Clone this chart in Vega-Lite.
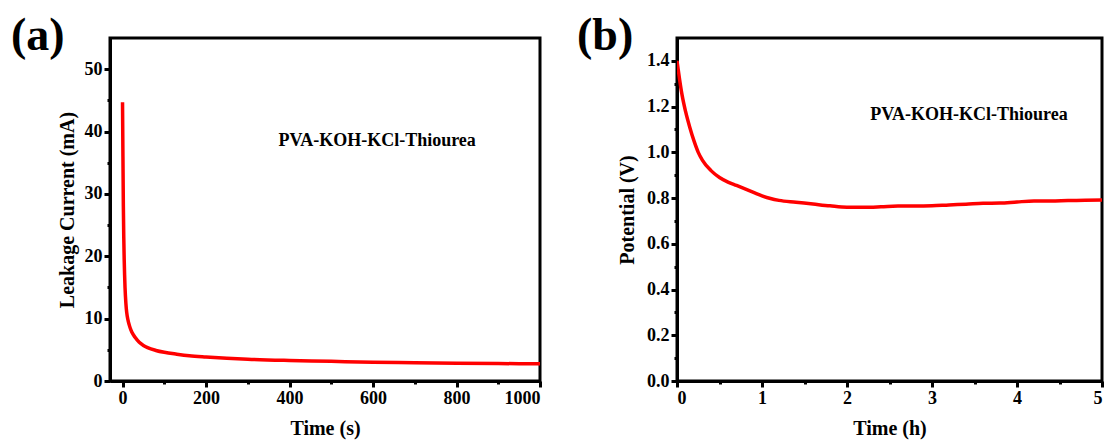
{
  "$schema": "https://vega.github.io/schema/vega-lite/v6.json",
  "padding": {"left": 9, "top": 11, "right": 0, "bottom": 0},
  "spacing": 137,
  "bounds": "flush",
  "config": {
    "view": {"stroke": "black", "strokeWidth": 3},
    "font": "Liberation Serif",
    "axis": {
      "domainColor": "black", "domainWidth": 3,
      "tickColor": "black", "tickWidth": 3, "tickSize": 6, "ticks": true,
      "labelFont": "Liberation Serif", "labelFontWeight": "bold", "labelFontSize": 18, "labelColor": "black",
      "titleFont": "Liberation Serif", "titleFontWeight": "bold", "titleFontSize": 20, "titleColor": "black",
      "grid": false, "labelPadding": 2
    },
    "title": {"font": "Liberation Serif", "fontWeight": "bold", "fontSize": 46, "color": "black", "anchor": "start", "frame": "group", "baseline": "alphabetic", "offset": 0}
  },
  "datasets": {
    "leak": [
      {"t": 0, "i": 44.7}, {"t": 1, "i": 36}, {"t": 2, "i": 28}, {"t": 3, "i": 23}, {"t": 4, "i": 19.5},
      {"t": 5, "i": 17}, {"t": 6, "i": 15}, {"t": 8, "i": 12.5}, {"t": 10, "i": 11}, {"t": 13, "i": 9.8},
      {"t": 16, "i": 9.0}, {"t": 20, "i": 8.2}, {"t": 25, "i": 7.5}, {"t": 30, "i": 7.0}, {"t": 40, "i": 6.2},
      {"t": 50, "i": 5.7}, {"t": 60, "i": 5.35}, {"t": 80, "i": 4.9}, {"t": 100, "i": 4.6}, {"t": 130, "i": 4.3},
      {"t": 160, "i": 4.05}, {"t": 200, "i": 3.85}, {"t": 250, "i": 3.65}, {"t": 300, "i": 3.5}, {"t": 400, "i": 3.3},
      {"t": 500, "i": 3.15}, {"t": 600, "i": 3.0}, {"t": 700, "i": 2.92}, {"t": 800, "i": 2.85}, {"t": 900, "i": 2.8},
      {"t": 1000, "i": 2.75}
    ],
    "pot": [
      {"h": 0, "v": 1.40}, {"h": 0.03, "v": 1.32}, {"h": 0.06, "v": 1.25}, {"h": 0.1, "v": 1.18}, {"h": 0.15, "v": 1.11},
      {"h": 0.2, "v": 1.05}, {"h": 0.25, "v": 1.0}, {"h": 0.3, "v": 0.965}, {"h": 0.4, "v": 0.92}, {"h": 0.5, "v": 0.89},
      {"h": 0.6, "v": 0.87}, {"h": 0.7, "v": 0.855}, {"h": 0.8, "v": 0.84}, {"h": 0.9, "v": 0.825}, {"h": 1.0, "v": 0.81},
      {"h": 1.1, "v": 0.798}, {"h": 1.2, "v": 0.79}, {"h": 1.4, "v": 0.782}, {"h": 1.6, "v": 0.774}, {"h": 1.8, "v": 0.766},
      {"h": 2.0, "v": 0.76}, {"h": 2.2, "v": 0.76}, {"h": 2.4, "v": 0.762}, {"h": 2.6, "v": 0.765}, {"h": 2.8, "v": 0.765},
      {"h": 3.0, "v": 0.766}, {"h": 3.2, "v": 0.77}, {"h": 3.4, "v": 0.773}, {"h": 3.6, "v": 0.777}, {"h": 3.8, "v": 0.778},
      {"h": 4.0, "v": 0.783}, {"h": 4.2, "v": 0.787}, {"h": 4.4, "v": 0.787}, {"h": 4.6, "v": 0.789}, {"h": 4.8, "v": 0.79},
      {"h": 5.0, "v": 0.792}
    ]
  },
  "hconcat": [
    {
      "width": 430, "height": 343,
      "title": {"text": "(a)", "dx": -99, "dy": 26},
      "resolve": {"axis": {"x": "independent", "y": "independent"}},
      "layer": [
        {
          "data": {"name": "leak"},
          "mark": {"type": "line", "color": "#ff0000", "strokeWidth": 3.5, "interpolate": "monotone", "clip": true},
          "encoding": {
            "x": {"field": "t", "type": "quantitative", "scale": {"domain": [-30, 1000], "nice": false, "zero": false},
              "axis": {"orient": "bottom", "title": "Time (s)", "values": [0,200,400,600,800,1000], "format": "d", "titlePadding": 11}},
            "y": {"field": "i", "type": "quantitative", "scale": {"domain": [0, 55], "nice": false},
              "axis": {"orient": "left", "title": "Leakage Current (mA)", "values": [0,10,20,30,40,50], "titlePadding": 7}}
          }
        },
        {
          "data": {"values": [{"label": "PVA-KOH-KCl-Thiourea", "t": 610, "i": 38.5}]},
          "mark": {"type": "text", "font": "Liberation Serif", "fontWeight": "bold", "fontSize": 18, "baseline": "middle", "align": "center", "color": "black"},
          "encoding": {
            "x": {"field": "t", "type": "quantitative",
              "axis": {"orient": "bottom", "title": null, "values": [100,300,500,700,900], "labels": false, "domain": false, "tickSize": 3}},
            "y": {"field": "i", "type": "quantitative",
              "axis": {"orient": "left", "title": null, "values": [5,15,25,35,45], "labels": false, "domain": false, "tickSize": 3}},
            "text": {"field": "label"}
          }
        }
      ]
    },
    {
      "width": 425, "height": 343,
      "title": {"text": "(b)", "dx": -100, "dy": 26},
      "resolve": {"axis": {"x": "independent", "y": "independent"}},
      "layer": [
        {
          "data": {"name": "pot"},
          "mark": {"type": "line", "color": "#ff0000", "strokeWidth": 3.5, "interpolate": "monotone", "clip": true},
          "encoding": {
            "x": {"field": "h", "type": "quantitative", "scale": {"domain": [0, 5], "nice": false},
              "axis": {"orient": "bottom", "title": "Time (h)", "values": [0,1,2,3,4,5], "format": "d", "titlePadding": 11}},
            "y": {"field": "v", "type": "quantitative", "scale": {"domain": [0, 1.5], "nice": false},
              "axis": {"orient": "left", "title": "Potential (V)", "values": [0,0.2,0.4,0.6,0.8,1.0,1.2,1.4], "format": ".1f", "titlePadding": 9}}
          }
        },
        {
          "data": {"values": [{"label": "PVA-KOH-KCl-Thiourea", "h": 3.435, "v": 1.163}]},
          "mark": {"type": "text", "font": "Liberation Serif", "fontWeight": "bold", "fontSize": 18, "baseline": "middle", "align": "center", "color": "black"},
          "encoding": {
            "x": {"field": "h", "type": "quantitative",
              "axis": {"orient": "bottom", "title": null, "values": [0.5,1.5,2.5,3.5,4.5], "labels": false, "domain": false, "tickSize": 3}},
            "y": {"field": "v", "type": "quantitative",
              "axis": {"orient": "left", "title": null, "values": [0.1,0.3,0.5,0.7,0.9,1.1,1.3], "labels": false, "domain": false, "tickSize": 3}},
            "text": {"field": "label"}
          }
        }
      ]
    }
  ]
}
